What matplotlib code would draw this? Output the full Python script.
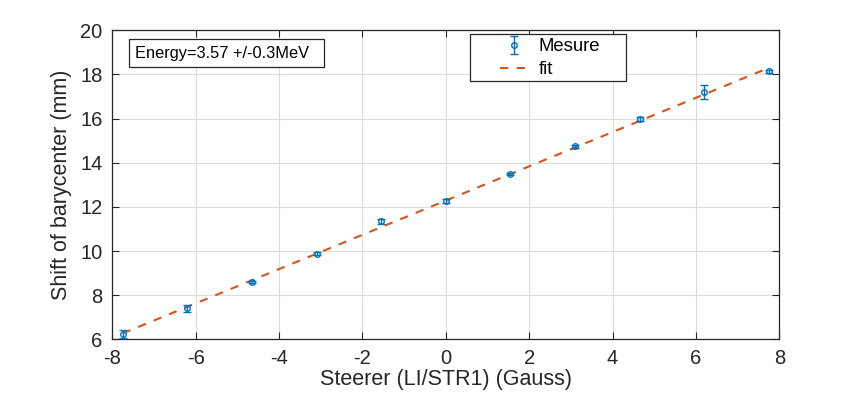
import matplotlib
matplotlib.use("Agg")
import matplotlib.pyplot as plt
from matplotlib.patches import Rectangle
import numpy as np

plt.rcParams['font.family'] = ['Liberation Sans', 'DejaVu Sans']
plt.rcParams['axes.unicode_minus'] = False

steerer = [-7.75, -6.2, -4.65, -3.1, -1.55, 0.0, 1.55, 3.1, 4.65, 6.2, 7.75]
shift = [6.24, 7.40, 8.58, 9.87, 11.35, 12.27, 13.49, 14.74, 15.98, 17.22, 18.14]
shift_err = [0.20, 0.15, 0.05, 0.07, 0.12, 0.08, 0.05, 0.08, 0.10, 0.32, 0.08]
fit_x = [-7.75, 7.75]
fit_y = [6.27, 18.30]

x_ticks = [-8, -6, -4, -2, 0, 2, 4, 6, 8]
y_ticks = [6, 8, 10, 12, 14, 16, 18, 20]

fig = plt.figure(figsize=(8.62, 3.97), dpi=100)
ax = fig.add_axes([112.3/862, 1-339.3/397, (779.3-112.3)/862, (339.3-30.3)/397])

blue = '#0072BD'
orange = '#D95319'
dark = '#262626'

eb = ax.errorbar(steerer, shift, yerr=shift_err, fmt='o', color=blue, mfc='none',
                 ms=4, mew=1.0, elinewidth=1.0, capsize=3, capthick=1.0, label='Mesure', zorder=3)
ln, = ax.plot(fit_x, fit_y, '--', color=orange, lw=1.5, dashes=(4, 4), label='fit', zorder=2)

ax.set_xlim(-8, 8)
ax.set_ylim(6, 20)
ax.set_xticks(x_ticks)
ax.set_yticks(y_ticks)
ax.grid(True, color='#dcdcdc', lw=0.8)
ax.set_axisbelow(True)
ax.tick_params(direction='in', top=True, right=True, labelsize=14.5, length=5, width=0.8,
               colors=dark, pad=7)
for s in ax.spines.values():
    s.set_color(dark)
    s.set_linewidth(0.9)

ax.set_xlabel('Steerer (LI/STR1) (Gauss)', fontsize=15.5, color=dark, labelpad=1)
ax.set_ylabel('Shift of barycenter (mm)', fontsize=15.5, color=dark, labelpad=6)

# Annotation box
ax.add_patch(Rectangle((0.0255, 0.880), 0.318 - 0.0255, 0.973 - 0.880, transform=ax.transAxes,
                       fc='white', ec=dark, lw=0.9, zorder=4))
ax.text(0.0335, 0.9265, 'Energy=3.57 +/-0.3MeV', transform=ax.transAxes, fontsize=11.8,
        va='center', ha='left', color='black', zorder=5)

# Legend with MATLAB-like frame
ax.add_patch(Rectangle((0.537, 0.835), 0.7706 - 0.537, 0.987 - 0.835, transform=ax.transAxes,
                       fc='white', ec=dark, lw=0.9, zorder=4))
leg = ax.legend([eb, ln], ['Mesure', 'fit'], loc='upper left',
                bbox_to_anchor=(0.581, 0.974),
                fontsize=13.3, frameon=False, borderpad=0, handlelength=1.55,
                labelspacing=0.32, borderaxespad=0, handletextpad=0.55)
leg.set_zorder(6)

fig.savefig('out.png', dpi=100, facecolor='white')
